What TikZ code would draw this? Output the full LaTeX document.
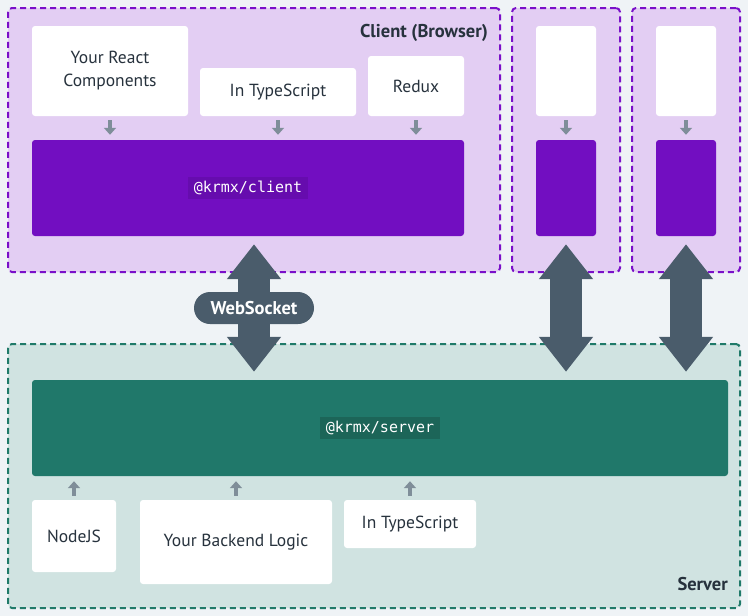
\documentclass[tikz,border=0pt]{standalone}
\usepackage{fontspec}
\setmainfont{PT Sans}
\setmonofont{DejaVu Sans Mono}
\usetikzlibrary{arrows.meta,positioning,calc}

\definecolor{pagebg}{HTML}{EFF3F6}
\definecolor{clientfill}{HTML}{E3CEF3}
\definecolor{clientline}{HTML}{7A10C9}
\definecolor{clientbar}{HTML}{720EC1}
\definecolor{clienttag}{HTML}{660CAE}
\definecolor{serverfill}{HTML}{D0E3E1}
\definecolor{serverline}{HTML}{207A69}
\definecolor{serverbar}{HTML}{20786A}
\definecolor{servertag}{HTML}{1C6558}
\definecolor{bigarrow}{HTML}{4A5C6B}
\definecolor{smallarrow}{HTML}{7F8E99}
\definecolor{textdark}{HTML}{27323D}

\tikzset{
  area/.style={draw, line width=2pt, dash pattern=on 6pt off 4pt, rounded corners=4pt, inner sep=0pt},
  clientarea/.style={area, draw=clientline, fill=clientfill},
  serverarea/.style={area, draw=serverline, fill=serverfill},
  card/.style={fill=white, rounded corners=3pt, inner sep=0pt, align=center, text=textdark,
    font=\fontsize{17.5}{23}\selectfont},
  bar/.style={rounded corners=3pt, inner sep=0pt},
  tag/.style={text=white, inner xsep=6pt, minimum height=22pt, inner ysep=0pt,
    font=\ttfamily\fontsize{15}{16}\selectfont},
  title/.style={text=textdark, anchor=east, inner sep=0pt, font=\bfseries\fontsize{18.5}{20}\selectfont},
  smallarr/.style={draw=smallarrow, line width=4pt, -{Triangle[width=12pt,length=7pt]},
    shorten <=4pt, shorten >=5pt},
  bigarr/.style={draw=bigarrow, line width=32pt,
    {Triangle[width=52pt,length=35pt]}-{Triangle[width=52pt,length=35pt]},
    shorten <=8pt, shorten >=8pt},
  pill/.style={fill=bigarrow, text=white, rounded corners=16pt, minimum width=120pt,
    minimum height=32pt, font=\bfseries\fontsize{18.5}{20}\selectfont}
}

\begin{document}
\begin{tikzpicture}[x=1pt,y=-1pt]
\fill[pagebg] (0,0) rectangle (748,616);
\useasboundingbox (0,0) rectangle (748,616);

% client side
\node[clientarea, minimum width=492pt, minimum height=264pt] (clientarea) at (254,140) {};
\node[clientarea, minimum width=108pt, minimum height=264pt] (area2) at (566,140) {};
\node[clientarea, minimum width=108pt, minimum height=264pt] (area3) at (686,140) {};
\node[title] (clienttitle) at (488,33) {Client (Browser)};

\node[card, minimum width=156pt, minimum height=90pt] (react) at (110,71) {Your React\\Components};
\node[card, minimum width=156pt, minimum height=48pt] (tsclient) at (278,92) {In TypeScript};
\node[card, minimum width=96pt, minimum height=60pt] (redux) at (416,86) {Redux};
\node[bar, fill=clientbar, minimum width=432pt, minimum height=96pt] (clientbar) at (248,188) {};
\node[tag, fill=clienttag] (clienttag) at (clientbar) {@krmx/client};

\node[card, minimum width=60pt, minimum height=90pt] (white2) at (566,71) {};
\node[bar, fill=clientbar, minimum width=60pt, minimum height=96pt] (bar2) at (566,188) {};
\node[card, minimum width=60pt, minimum height=90pt] (white3) at (686,71) {};
\node[bar, fill=clientbar, minimum width=60pt, minimum height=96pt] (bar3) at (686,188) {};

\foreach \src in {react,tsclient,redux,white2,white3}
  \draw[smallarr] (\src.south) -- (\src.south |- clientbar.north);

% server side
\node[serverarea, minimum width=732pt, minimum height=264pt] (serverarea) at (374,476) {};
\node[title] (servertitle) at (728,584) {Server};
\node[bar, fill=serverbar, minimum width=696pt, minimum height=96pt] (serverbar) at (380,428) {};
\node[tag, fill=servertag] (servertag) at (serverbar) {@krmx/server};

\node[card, minimum width=84pt, minimum height=72pt] (nodejs) at (74,536) {NodeJS};
\node[card, minimum width=192pt, minimum height=84pt] (backend) at (236,542) {Your Backend Logic};
\node[card, minimum width=132pt, minimum height=48pt] (tsserver) at (410,524) {In TypeScript};

\foreach \src in {nodejs,backend,tsserver}
  \draw[smallarr] (\src.north) -- (\src.north |- serverbar.south);

% connections
\draw[bigarr] (clientarea |- clientbar.south) -- (clientarea |- serverbar.north);
\draw[bigarr] (bar2.south) -- (bar2.south |- serverbar.north);
\draw[bigarr] (bar3.south) -- (bar3.south |- serverbar.north);
\node[pill] (websocket) at (254,308) {WebSocket};
\end{tikzpicture}
\end{document}
